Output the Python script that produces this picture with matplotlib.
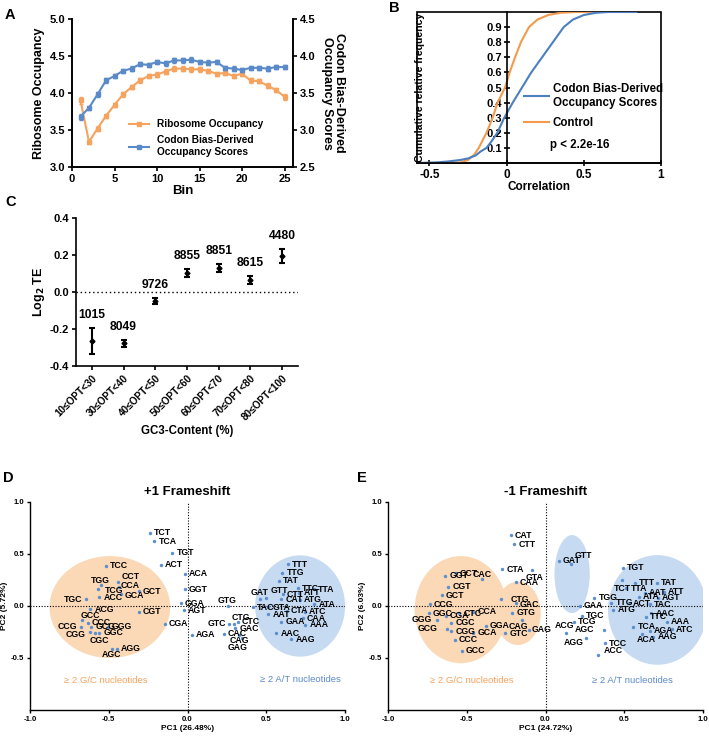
import matplotlib
matplotlib.use('Agg')
import matplotlib.pyplot as plt
from matplotlib.patches import Ellipse, Rectangle
from matplotlib.lines import Line2D

plt.rcParams['font.family'] = ['Liberation Sans', 'DejaVu Sans']
plt.rcParams['font.weight'] = 'bold'
plt.rcParams['axes.labelweight'] = 'bold'
plt.rcParams['axes.linewidth'] = 1.2

# ---------------- DATA ----------------
# Panel A
bins = list(range(1, 26))
ribo_occ = [3.90, 3.34, 3.52, 3.69, 3.84, 3.98, 4.08, 4.17, 4.23, 4.25, 4.29, 4.33, 4.33,
            4.32, 4.32, 4.30, 4.26, 4.27, 4.23, 4.26, 4.17, 4.16, 4.10, 4.04, 3.95]
ribo_err = [0.05, 0.03, 0.03, 0.03, 0.03, 0.03, 0.03, 0.03, 0.03, 0.03, 0.03, 0.03, 0.03,
            0.03, 0.03, 0.03, 0.03, 0.03, 0.03, 0.03, 0.03, 0.03, 0.03, 0.03, 0.04]
codon_occ = [3.18, 3.30, 3.48, 3.67, 3.73, 3.80, 3.83, 3.89, 3.88, 3.92, 3.90, 3.94, 3.94,
             3.95, 3.92, 3.91, 3.92, 3.84, 3.83, 3.81, 3.84, 3.84, 3.83, 3.85, 3.85]
codon_err = [0.04, 0.03, 0.03, 0.03, 0.03, 0.03, 0.03, 0.03, 0.03, 0.03, 0.03, 0.03, 0.03,
             0.03, 0.03, 0.03, 0.03, 0.03, 0.03, 0.03, 0.03, 0.03, 0.03, 0.03, 0.03]

# Panel B (cumulative distributions)
cbd_corr = [-0.56, -0.45, -0.38, -0.30, -0.25, -0.20, -0.17, -0.13, -0.10, -0.06, -0.015,
            0.04, 0.10, 0.16, 0.23, 0.30, 0.37, 0.43, 0.50, 0.58, 0.66, 0.84]
cbd_cum = [0.0, 0.004, 0.01, 0.02, 0.03, 0.05, 0.075, 0.10, 0.14, 0.20, 0.30,
           0.40, 0.50, 0.60, 0.70, 0.80, 0.90, 0.95, 0.98, 0.995, 1.0, 1.0]
ctrl_corr = [-0.56, -0.30, -0.25, -0.21, -0.18, -0.13, -0.09, -0.058, -0.01, 0.02, 0.055,
             0.093, 0.145, 0.20, 0.27, 0.35, 0.45, 0.58]
ctrl_cum = [0.0, 0.003, 0.02, 0.055, 0.10, 0.20, 0.30, 0.40, 0.50, 0.60, 0.70,
            0.80, 0.90, 0.95, 0.98, 0.995, 1.0, 1.0]

# Panel C
gc3_bins = ['10≤OPT<30', '30≤OPT<40', '40≤OPT<50', '50≤OPT<60',
            '60≤OPT<70', '70≤OPT<80', '80≤OPT<100']
log2_te = [-0.265, -0.278, -0.049, 0.105, 0.131, 0.064, 0.195]
te_err = [0.070, 0.021, 0.018, 0.022, 0.023, 0.023, 0.039]
gene_counts = [1015, 8049, 9726, 8855, 8851, 8615, 4480]

# Panel D (+1 frameshift PCA)
codons_d = ['TCT', 'TCA', 'TGT', 'ACT', 'ACA', 'GGT', 'GGA', 'AGT', 'CGA', 'AGA',
            'GTG', 'GTC', 'CTG', 'CTC', 'GAC', 'CAC', 'CAG', 'GAG',
            'TCC', 'TGG', 'TCG', 'CCT', 'CCA', 'GCA', 'GCT', 'TGC', 'ACC', 'ACG', 'CGT',
            'GCC', 'CCC', 'GCG', 'CCG', 'GGG', 'GGC', 'CGG', 'CGC', 'AGG', 'AGC',
            'TTT', 'TTG', 'TAT', 'GAT', 'GTT', 'TTC', 'TTA', 'CTT', 'ATT', 'CAT', 'ATG',
            'ATA', 'TAC', 'GTA', 'CTA', 'AAT', 'ATC', 'GAA', 'CAA', 'AAA', 'AAC', 'AAG']
pc1_d = [-0.237, -0.21, -0.097, -0.171, -0.019, -0.017, -0.042, -0.025, -0.146, 0.028,
         0.256, 0.265, 0.296, 0.32, 0.303, 0.229, 0.328, 0.345,
         -0.518, -0.571, -0.552, -0.442, -0.434, -0.423, -0.311, -0.643, -0.561, -0.618, -0.311,
         -0.671, -0.633, -0.612, -0.675, -0.506, -0.559, -0.618, -0.586, -0.449, -0.48,
         0.637, 0.603, 0.582, 0.461, 0.50, 0.70, 0.80, 0.605, 0.711, 0.595, 0.715,
         0.806, 0.415, 0.514, 0.631, 0.514, 0.743, 0.595, 0.732, 0.747, 0.563, 0.658]
pc2_d = [0.706, 0.623, 0.514, 0.399, 0.31, 0.163, 0.026, -0.042, -0.173, -0.275,
         0.0, -0.173, -0.173, -0.15, -0.214, -0.268, -0.278, -0.31,
         0.387, 0.163, 0.20, 0.233, 0.185, 0.112, 0.144, 0.064, 0.083, -0.032, -0.054,
         -0.134, -0.16, -0.198, -0.198, -0.198, -0.256, -0.246, -0.262, -0.409, -0.415,
         0.403, 0.319, 0.243, 0.064, 0.073, 0.169, 0.16, 0.115, 0.128, 0.064, 0.058,
         0.019, -0.013, -0.013, -0.045, -0.077, -0.054, -0.15, -0.118, -0.182, -0.262, -0.32]

# Panel E (-1 frameshift PCA)
codons_e = ['CAT', 'CTT', 'CTA', 'GTA', 'CAA',
            'CCT', 'GGT', 'CAC', 'CGT', 'GCT', 'CCG', 'GGC', 'GGG', 'CGA', 'CTC', 'CCA',
            'CGC', 'GCG', 'CGG', 'GGA', 'GCA', 'CAG', 'GTC', 'GAG', 'CCC', 'GCC', 'CTG',
            'GAC', 'GTG',
            'GAT', 'GTT',
            'TGG', 'GAA', 'TGC', 'TCG', 'ACG', 'AGC', 'AGG', 'TCC', 'ACC',
            'TGT', 'TCT', 'TTA', 'TTT', 'TAT', 'AAT', 'ATT', 'ATA', 'AGT', 'TAC', 'TTG',
            'ATG', 'ACT', 'AAC', 'TTC', 'AAA', 'ATC', 'TCA', 'AGA', 'ACA', 'AAG']
pc1_e = [-0.222, -0.199, -0.275, -0.085, -0.19,
         -0.571, -0.635, -0.402, -0.618, -0.66, -0.734, -0.741, -0.688, -0.633, -0.548, -0.459,
         -0.597, -0.624, -0.597, -0.379, -0.459, -0.148, -0.254, -0.106, -0.576, -0.533, -0.281,
         -0.19, -0.21,
         0.085, 0.159,
         0.311, 0.216, 0.233, 0.18, 0.131, 0.37, 0.254, 0.377, 0.334,
         0.493, 0.487, 0.514, 0.567, 0.709, 0.631, 0.751, 0.593, 0.715, 0.662, 0.419,
         0.43, 0.529, 0.673, 0.637, 0.772, 0.80, 0.557, 0.662, 0.614, 0.684]
pc2_e = [0.681, 0.594, 0.355, 0.345, 0.227,
         0.313, 0.291, 0.259, 0.185, 0.105, 0.019, -0.07, -0.134, -0.096, -0.07, -0.054,
         -0.16, -0.217, -0.243, -0.192, -0.256, -0.134, -0.262, -0.23, -0.326, -0.431, 0.064,
         0.026, -0.064,
         0.435, 0.403,
         0.08, 0.003, -0.096, -0.15, -0.256, -0.23, -0.31, -0.358, -0.47,
         0.367, 0.249, 0.169, 0.224, 0.224, 0.128, 0.137, 0.089, 0.08, 0.016, 0.032,
         -0.038, 0.025, -0.07, -0.102, -0.15, -0.224, -0.198, -0.24, -0.268, -0.294]

# ---------------- STYLE ----------------
ORANGE = '#F5A35E'
BLUE = '#5B8AC8'
B_ORANGE = '#F39A4C'
B_BLUE = '#4B7FBF'
DOT = '#5B8FD0'
PEACH = '#FBD8B6'
LIGHTBLUE = '#C6DAF1'

# label offsets (points) and alignment for the PCA labels
LAB_D = {'GTG': (-7, 4, 'left'), 'GTC': (-2, 0, 'right'), 'CTG': (-2, 5, 'left'),
         'CAG': (-7, -4, 'left'), 'GAG': (-10, -7, 'left'), 'TGG': (-5, 6, 'left'),
         'TCG': (3, -4, 'left'), 'CCT': (3, 4, 'left'), 'CCA': (1, 1, 'left'),
         'GCA': (3, -1, 'left'), 'TGC': (-3, 0, 'right'), 'GCC': (-1, 3, 'left'),
         'CCG': (-3, 0, 'right'), 'CGG': (-3, -2, 'right'), 'CGC': (-4, -5, 'left'),
         'AGC': (-7, -4, 'left'), 'GAT': (-7, 5, 'left'), 'GTT': (3, 6, 'left')}
LAB_E = {'GTA': (-5, -5, 'left'), 'CAC': (-7, 3, 'left'), 'GGG': (-4, 0, 'right'),
         'GCG': (-7, 0, 'right'), 'CAG': (-10, -5, 'left'), 'GAG': (2, 0, 'left'),
         'CTG': (7, 0, 'left'), 'GAC': (3, -1, 'left'), 'GTT': (3, 6, 'left'),
         'ACG': (-8, 5, 'left'), 'AGC': (-7, 0, 'right'), 'AGG': (-1, -3, 'right'),
         'ACC': (4, 3, 'left'), 'TCT': (-6, -6, 'left'), 'ACA': (-4, -4, 'left')}

W, H = 709, 737
fig = plt.figure(figsize=(W / 100, H / 100), dpi=100)


def rect(l, r, t, b):
    return [l / W, 1 - b / H, (r - l) / W, (b - t) / H]


# ---------------- Panel A ----------------
axA = fig.add_axes(rect(72, 293, 19, 167))
axA.errorbar(bins, ribo_occ, yerr=ribo_err, color=ORANGE, marker='s', ms=2.5, lw=1.5,
             capsize=1.5, elinewidth=1.2)
axA.set_xlim(0, 26)
axA.set_ylim(3.0, 5.0)
axA.set_xticks([0, 5, 10, 15, 20, 25])
axA.set_yticks([3.0, 3.5, 4.0, 4.5, 5.0])
axA.set_yticklabels(['3.0', '3.5', '4.0', '4.5', '5.0'])
axA.spines['top'].set_visible(False)
axA.tick_params(labelsize=8, width=1.2, length=3, pad=2)
axA.set_xlabel('Bin', fontsize=9.5, labelpad=1)
axA.set_ylabel('Ribosome Occupancy', fontsize=9, labelpad=3)
axA2 = axA.twinx()
axA2.errorbar(bins, codon_occ, yerr=codon_err, color=BLUE, marker='s', ms=2.5, lw=1.5,
              capsize=1.5, elinewidth=1.2)
axA2.set_ylim(2.5, 4.5)
axA2.set_yticks([2.5, 3.0, 3.5, 4.0, 4.5])
axA2.spines['top'].set_visible(False)
axA2.tick_params(labelsize=8, width=1.2, length=3, pad=2)
axA2.set_ylabel('Codon Bias-Derived\nOccupancy Scores', fontsize=9, rotation=270,
                labelpad=21, linespacing=1.0)
hA = [Line2D([], [], color=ORANGE, marker='s', ms=2.5, lw=1.5),
      Line2D([], [], color=BLUE, marker='s', ms=2.5, lw=1.5)]
axA.legend(hA, ['Ribosome Occupancy', 'Codon Bias-Derived\nOccupancy Scores'],
           loc='lower left', bbox_to_anchor=(0.24, 0.04), frameon=False, fontsize=7.3,
           handlelength=2.0, labelspacing=0.6, borderaxespad=0)

# ---------------- Panel B ----------------
axB = fig.add_axes(rect(417, 661, 12, 163))
axB.plot(ctrl_corr, ctrl_cum, color=B_ORANGE, lw=1.5)
axB.plot(cbd_corr, cbd_cum, color=B_BLUE, lw=1.5)
axB.set_xlim(-0.58, 1.0)
axB.set_ylim(0, 1)
axB.spines['left'].set_position(('data', 0))
for s in ['top', 'right']:
    axB.spines[s].set_visible(False)
axB.add_patch(Rectangle((0, 0), 1, 1, transform=axB.transAxes, fill=False, lw=1.2,
                        clip_on=False))
axB.set_yticks([0.1, 0.2, 0.3, 0.4, 0.5, 0.6, 0.7, 0.8, 0.9])
axB.set_xticks([-0.5, 0, 0.5, 1])
axB.set_xticklabels(['-0.5', '0', '0.5', '1'])
axB.tick_params(axis='y', direction='inout', length=5, width=1.2, labelsize=8, pad=1)
axB.tick_params(axis='x', direction='inout', length=4, width=1.2, labelsize=8.5, pad=2)
axB.set_xlabel('Correlation', fontsize=8.5, labelpad=0)
axB.text(0.012, 0.5, 'Cumulative relative frequency', transform=axB.transAxes,
         rotation=90, ha='center', va='center', fontsize=7.6)
hB = [Line2D([], [], color=B_BLUE, lw=1.5), Line2D([], [], color=B_ORANGE, lw=1.5)]
axB.legend(hB, ['Codon Bias-Derived\nOccupancy Scores', 'Control'], loc='upper left',
           bbox_to_anchor=(0.42, 0.56), frameon=False, fontsize=8.3, handlelength=2.2,
           handletextpad=0.3, labelspacing=0.7, borderaxespad=0)
axB.text(0.545, 0.12, 'p < 2.2e-16', transform=axB.transAxes, fontsize=8.3, va='center')

# ---------------- Panel C ----------------
axC = fig.add_axes(rect(76, 298, 218, 366))
xc = list(range(len(gc3_bins)))
axC.errorbar(xc, log2_te, yerr=te_err, fmt='D', color='black', ms=2.5, capsize=2.5,
             elinewidth=1.5, capthick=1.5)
axC.axhline(0, color='black', lw=1.0, ls=(0, (1, 2)))
for xi, yv, ev, n in zip(xc, log2_te, te_err, gene_counts):
    axC.annotate(str(n), (xi, yv + ev), xytext=(0, 5), textcoords='offset points',
                 ha='center', va='bottom', fontsize=8.7)
axC.set_xlim(-0.5, 6.5)
axC.set_ylim(-0.4, 0.4)
axC.set_yticks([-0.4, -0.2, 0.0, 0.2, 0.4])
axC.set_yticklabels(['-0.4', '-0.2', '0.0', '0.2', '0.4'])
axC.set_xticks(xc)
axC.set_xticklabels(gc3_bins, rotation=45, ha='right', rotation_mode='anchor', fontsize=7.2)
axC.spines['top'].set_visible(False)
axC.spines['right'].set_visible(False)
axC.tick_params(axis='y', labelsize=8, width=1.2, length=3, pad=2)
axC.tick_params(axis='x', width=1.2, length=3, pad=2)
axC.set_xlabel('GC3-Content (%)', fontsize=8.3, labelpad=2)
axC.set_ylabel('Log$_\\mathbf{2}$ TE', fontsize=9, labelpad=2)


# ---------------- Panels D / E ----------------
def pca_panel(ax, codons, pc1, pc2, offsets, title, xlabel, ylabel):
    ax.scatter(pc1, pc2, s=6, color=DOT, zorder=3, linewidths=0)
    for c, x, y in zip(codons, pc1, pc2):
        dx, dy, ha = offsets.get(c, (3, 0, 'left'))
        ax.annotate(c, (x, y), xytext=(dx, dy), textcoords='offset points', ha=ha,
                    va='center', fontsize=6.3, zorder=4)
    ax.axhline(0, color='black', lw=0.8, ls=(0, (1, 1.5)), zorder=2)
    ax.axvline(0, color='black', lw=0.8, ls=(0, (1, 1.5)), zorder=2)
    ax.set_xlim(-1, 1)
    ax.set_ylim(-1, 1)
    ax.set_xticks([-1, -0.5, 0, 0.5, 1])
    ax.set_xticklabels(['-1.0', '-0.5', '0.0', '0.5', '1.0'])
    ax.set_yticks([-0.5, 0, 0.5, 1.0])
    ax.set_yticklabels(['-0.5', '0.0', '0.5', '1.0'])
    ax.spines['top'].set_visible(False)
    ax.spines['right'].set_visible(False)
    ax.spines['left'].set_linewidth(1.0)
    ax.spines['bottom'].set_linewidth(1.0)
    ax.tick_params(labelsize=5.6, width=1.0, length=2.5, pad=1.5)
    ax.set_title(title, fontsize=9.5, fontweight='bold', pad=5)
    ax.set_xlabel(xlabel, fontsize=6, labelpad=2)
    ax.set_ylabel(ylabel, fontsize=6, labelpad=2)


axD = fig.add_axes(rect(30, 345, 502, 710))
axD.add_patch(Ellipse((-0.493, -0.01), 0.766, 0.98, color=PEACH, lw=0, zorder=0))
axD.add_patch(Ellipse((0.715, 0.0), 0.571, 0.974, color=LIGHTBLUE, lw=0, zorder=0))
pca_panel(axD, codons_d, pc1_d, pc2_d, LAB_D, '+1 Frameshift', 'PC1 (26.48%)', 'PC2 (5.72%)')
axD.text(-0.52, -0.716, '≥ 2 G/C nucleotides', color=ORANGE, fontsize=6.8, ha='center',
         va='center', fontweight='normal')
axD.text(0.715, -0.71, '≥ 2 A/T nucleotides', color=BLUE, fontsize=6.8, ha='center',
         va='center', fontweight='normal')

axE = fig.add_axes(rect(388, 703, 502, 710))
axE.add_patch(Ellipse((-0.538, -0.035), 0.586, 1.03, color=PEACH, lw=0, zorder=0))
axE.add_patch(Ellipse((-0.175, -0.07), 0.29, 0.61, color=PEACH, lw=0, zorder=0))
axE.add_patch(Ellipse((0.169, 0.307), 0.224, 0.75, color=LIGHTBLUE, lw=0, zorder=0))
axE.add_patch(Ellipse((0.711, -0.038), 0.629, 1.054, color=LIGHTBLUE, lw=0, zorder=0))
pca_panel(axE, codons_e, pc1_e, pc2_e, LAB_E, '-1 Frameshift', 'PC1 (24.72%)', 'PC2 (6.03%)')
axE.text(-0.47, -0.716, '≥ 2 G/C nucleotides', color=ORANGE, fontsize=6.8, ha='center',
         va='center', fontweight='normal')
axE.text(0.555, -0.716, '≥ 2 A/T nucleotides', color=BLUE, fontsize=6.8, ha='center',
         va='center', fontweight='normal')

# panel letters
for lab, x, y in [('A', 5, 15), ('B', 389, 8), ('C', 5, 202), ('D', 3, 478), ('E', 357, 478)]:
    fig.text(x / W, 1 - y / H, lab, fontsize=10.5, fontweight='bold', va='center', ha='left')

fig.savefig('out.png', dpi=100)
